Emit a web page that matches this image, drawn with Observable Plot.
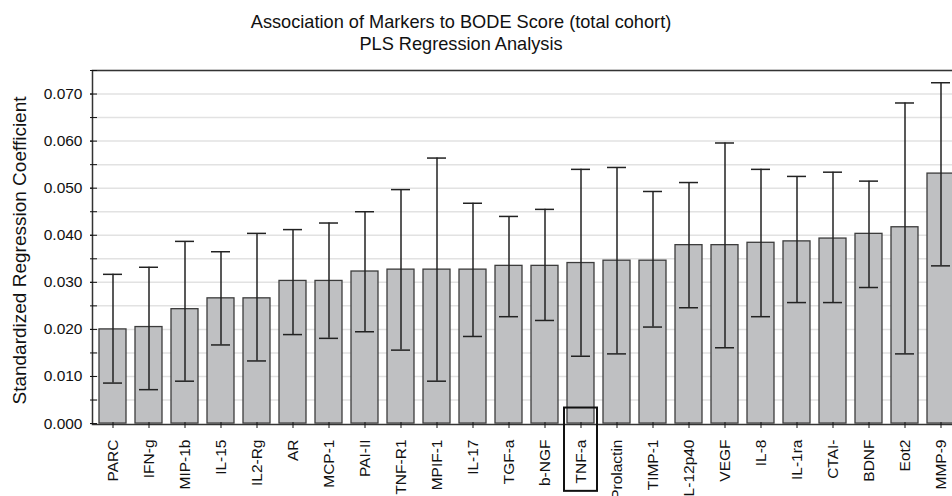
<!DOCTYPE html>
<html><head><meta charset="utf-8">
<script src="https://cdn.jsdelivr.net/npm/d3@7"></script>
<script src="https://cdn.jsdelivr.net/npm/@observablehq/plot@0.6"></script>
<style>
html,body{margin:0;padding:0;background:#fff;overflow:hidden;}
body{width:952px;height:496px;font-family:"Liberation Sans",Arial,sans-serif;}
#title{position:relative;height:62px;width:952px;}
#title div{position:absolute;left:0;width:922px;text-align:center;font-size:18.2px;color:#111;line-height:20px;}
</style></head>
<body>
<div id="title"><div style="top:12px">Association of Markers to BODE Score (total cohort)</div><div style="top:34px">PLS Regression Analysis</div></div>
<div id="chart"></div>
<script>
const markers = ["PARC","IFN-g","MIP-1b","IL-15","IL2-Rg","AR","MCP-1","PAI-II","TNF-R1","MPIF-1","IL-17","TGF-a","b-NGF","TNF-a","Prolactin","TIMP-1","IL-12p40","VEGF","IL-8","IL-1ra","CTAI-","BDNF","Eot2","MMP-9"];
const coef  = [0.0200,0.0205,0.0243,0.0266,0.0266,0.0303,0.0303,0.0323,0.0327,0.0327,0.0327,0.0335,0.0335,0.0341,0.0346,0.0346,0.0379,0.0379,0.0384,0.0387,0.0393,0.0403,0.0417,0.0531];
const upper = [0.0317,0.0332,0.0387,0.0365,0.0404,0.0412,0.0426,0.0450,0.0497,0.0564,0.0468,0.0440,0.0455,0.0540,0.0544,0.0493,0.0512,0.0596,0.0540,0.0525,0.0534,0.0515,0.0681,0.0724];
const lower = [0.0086,0.0072,0.0090,0.0167,0.0133,0.0189,0.0181,0.0195,0.0156,0.0090,0.0185,0.0227,0.0219,0.0143,0.0148,0.0205,0.0246,0.0161,0.0227,0.0257,0.0257,0.0289,0.0148,0.0335];
const yTicks = [0,0.01,0.02,0.03,0.04,0.05,0.06,0.07];
const yMinor = [0,0.005,0.01,0.015,0.02,0.025,0.03,0.035,0.04,0.045,0.05,0.055,0.06,0.065,0.07,0.075];
const highlighted = ["TNF-a"];
const yLabel = "Standardized Regression Coefficient";

const data = markers.map((m, i) => ({marker: m, coef: coef[i], hi: upper[i], lo: lower[i]}));

const chart = Plot.plot({
  width: 952, height: 434,
  marginTop: 8, marginBottom: 72, marginLeft: 92, marginRight: -9,
  style: {fontFamily: "'Liberation Sans', Arial, sans-serif", color: "#111", background: "#fff", overflow: "visible"},
  x: {domain: markers, paddingInner: 0.25, paddingOuter: 0.12, label: null},
  y: {domain: [-0.0002, 0.075], label: null},
  marks: [
    Plot.gridY(yMinor.slice(1), {stroke: "#e2e2e2", strokeOpacity: 1, strokeWidth: 1.5}),
    Plot.barY(data, {x: "marker", y: "coef", fill: "#bfc0c2", stroke: "#3c3c3c", strokeWidth: 1.3}),
    Plot.ruleX(data, {x: "marker", y1: "lo", y2: "hi", stroke: "#222", strokeWidth: 1.5}),
    Plot.tickY(data, {x: "marker", y: "hi", stroke: "#222", strokeWidth: 1.5, insetLeft: 4, insetRight: 4}),
    Plot.tickY(data, {x: "marker", y: "lo", stroke: "#222", strokeWidth: 1.5, insetLeft: 4, insetRight: 4}),
    Plot.frame({stroke: "#333", strokeWidth: 1.5}),
    Plot.axisY({ticks: yTicks, tickFormat: d3.format(".3f"), tickSize: 2, tickPadding: 8, fontSize: 15.5, label: null}),
    Plot.axisY({ticks: yMinor, tickSize: 7, dx: 5, tickFormat: () => "", label: null}),
    Plot.axisX({tickSize: 6, dy: -2, tickFormat: () => "", label: null}),
    Plot.axisX({tickSize: 0, tickRotate: -90, tickPadding: 15, fontSize: 15.5, label: null}),
    Plot.barY(highlighted, {x: d => d, y1: 0.0033, y2: -0.0144, fill: "none", stroke: "#111", strokeWidth: 2, insetLeft: -3, insetRight: -3}),
    Plot.text([yLabel], {text: d => d, frameAnchor: "left", textAnchor: "middle", rotate: -90, dx: -73, dy: 3, fontSize: 19, fill: "#111"})
  ]
});
document.getElementById("chart").appendChild(chart);
</script>
</body></html>
